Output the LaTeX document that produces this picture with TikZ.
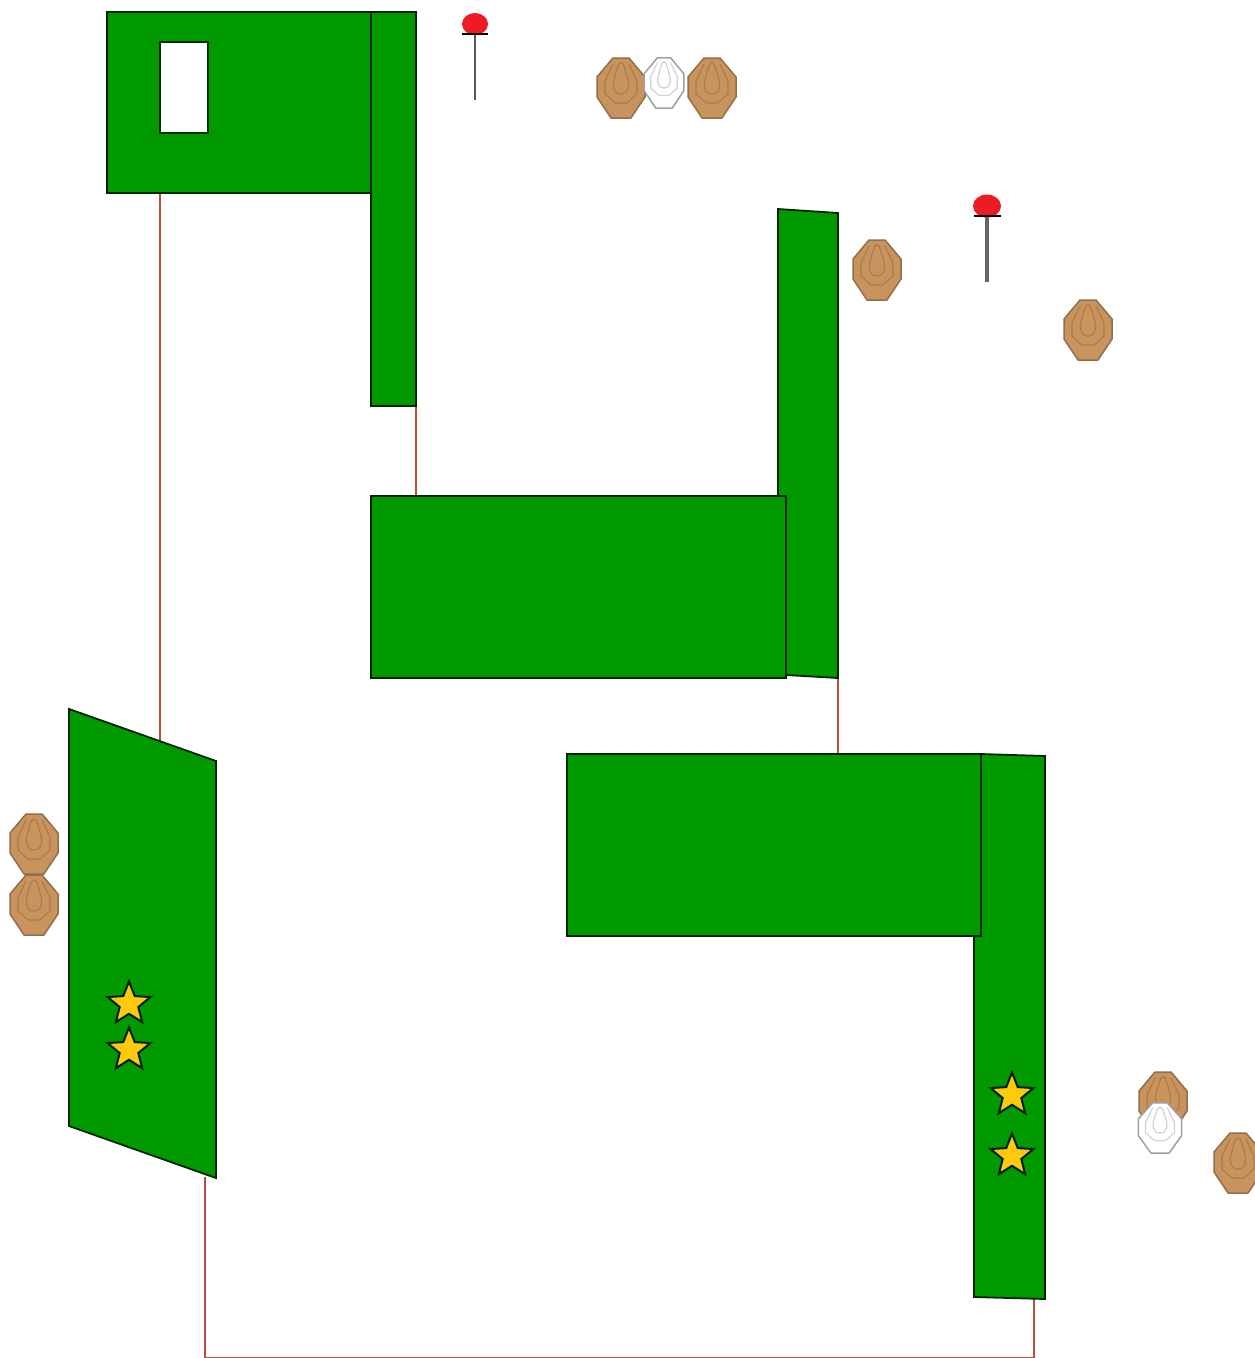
\documentclass[tikz,border=0pt]{standalone}
\usetikzlibrary{shapes.geometric}
\definecolor{plate}{HTML}{009900}
\definecolor{wire}{HTML}{B5503F}
\definecolor{tan}{HTML}{C8935C}
\definecolor{tanline}{HTML}{8F6F4C}
\definecolor{tanring}{HTML}{AD7B45}
\definecolor{paleedge}{HTML}{A0A0A0}
\definecolor{palering}{HTML}{CFCFCF}
\definecolor{gold}{HTML}{FFC90E}
\definecolor{pinred}{HTML}{ED1C24}
\tikzset{
  x=1pt,y=-1pt,
  plateshape/.style={fill=plate,draw=black!75!plate,line width=1.8pt,line join=miter},
  wireline/.style={draw=wire,line width=2.6pt},
  starmark/.style={star,star points=5,star point ratio=2.3,minimum size=45pt,inner sep=0pt,fill=gold,draw=black!80!plate,line width=2pt},
  pinhead/.style={ellipse,minimum width=26pt,minimum height=22pt,inner sep=0pt,fill=pinred,draw=none},
  targetoutline/.style={line width=1.5pt,line join=round},
  pics/shield/.style n args={3}{code={
    \draw[targetoutline,fill=#1,draw=#2]
      (-8,-30) -- (8,-30) -- (24,-11) -- (24,9) -- (10,30) -- (-10,30) -- (-24,9) -- (-24,-11) -- cycle;
    \draw[line width=1.1pt,draw=#3]
      (-8,-24) -- (-16,-7) -- (-16,6) -- (-6,15) -- (6,15) -- (16,6) -- (16,-7) -- (8,-24);
    \draw[line width=1.1pt,draw=#3]
      (0,-25) .. controls (-3,-25) and (-4,-19) .. (-6,-12) .. controls (-9,-3) and (-8,6) .. (0,6)
      .. controls (8,6) and (9,-3) .. (6,-12) .. controls (4,-19) and (3,-25) .. (0,-25) -- cycle;
  }},
}
\begin{document}
\begin{tikzpicture}
\useasboundingbox (0,0) rectangle (1255,1358);
\coordinate (wireAtop) at (160,193);
\coordinate (wireAbot) at (160,742);
\coordinate (wireBtop) at (416,405);
\coordinate (wireBbot) at (416,497);
\coordinate (wireCtop) at (838,677);
\coordinate (wireCbot) at (838,755);
\coordinate (wireDtop) at (205,1177);
\coordinate (wireDcornerL) at (205,1358);
\coordinate (wireDcornerR) at (1034,1358);
\coordinate (wireDend) at (1034,1298);

\draw[wireline] (wireAtop) -- (wireAbot);
\draw[wireline] (wireBtop) -- (wireBbot);
\draw[wireline] (wireCtop) -- (wireCbot);
\draw[wireline] (wireDtop) -- (wireDcornerL) -- (wireDcornerR) -- (wireDend);

% top-left plates
\draw[plateshape] (107,12) rectangle (371,193);
\fill[white,draw=black!70!plate,line width=1.5pt] (160,42) rectangle (208,133);
\draw[plateshape] (371,12) rectangle (416,406);

% middle plates
\draw[plateshape] (778,209) -- (838,213) -- (838,678) -- (786,675) -- (778,675) -- cycle;
\draw[plateshape] (371,496) rectangle (786,678);

% right plates
\draw[plateshape] (974,936) -- (974,1297) -- (1045,1299) -- (1045,756) -- (981,754) -- (974,754) -- cycle;
\draw[plateshape] (567,754) rectangle (981,936);

% left plate
\draw[plateshape] (69,709) -- (216,761) -- (216,1178) -- (69,1126) -- cycle;

% stars
\node[starmark] (star1) at (129,1004) {};
\node[starmark] (star2) at (129,1050) {};
\node[starmark] (star3) at (1012,1095) {};
\node[starmark] (star4) at (1012,1156) {};

% targets
\pic at (621,88) {shield={tan}{tanline}{tanring}};
\pic[xscale=.83,yscale=.84] at (664,83) {shield={white}{paleedge}{palering}};
\pic at (712,88) {shield={tan}{tanline}{tanring}};
\pic at (877,270) {shield={tan}{tanline}{tanring}};
\pic at (1088,330) {shield={tan}{tanline}{tanring}};
\pic at (34,844) {shield={tan}{tanline}{tanring}};
\pic at (34,905) {shield={tan}{tanline}{tanring}};
\pic at (1163,1102) {shield={tan}{tanline}{tanring}};
\pic[xscale=.9,yscale=.84] at (1160,1128) {shield={white}{paleedge}{palering}};
\pic at (1238,1163) {shield={tan}{tanline}{tanring}};

% pins
\node[pinhead] (pinA) at (475,24) {};
\coordinate (pinAtop) at (475,34);
\coordinate (pinAbot) at (475,100);
\coordinate (pinAbarL) at (462,34);
\coordinate (pinAbarR) at (488,34);
\draw[draw=black!65,line width=2.8pt] (pinAtop) -- (pinAbot);
\draw[black,line width=1.8pt] (pinAbarL) -- (pinAbarR);
\node[pinhead,minimum width=28pt,minimum height=23pt] (pinB) at (987,206) {};
\coordinate (pinBtop) at (987,216);
\coordinate (pinBbot) at (987,282);
\coordinate (pinBbarL) at (974,216);
\coordinate (pinBbarR) at (1001,216);
\draw[draw=black!60,line width=3.4pt] (pinBtop) -- (pinBbot);
\draw[black,line width=1.8pt] (pinBbarL) -- (pinBbarR);
\end{tikzpicture}
\end{document}
